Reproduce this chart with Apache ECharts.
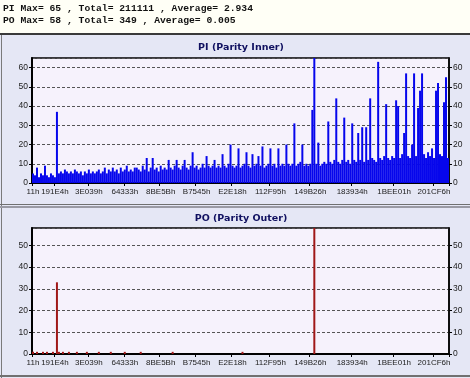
<!DOCTYPE html>
<html>
<head>
<meta charset="utf-8">
<script src="https://cdn.jsdelivr.net/npm/echarts@6/dist/echarts.min.js"></script>
<style>
  html, body { margin: 0; padding: 0; background: #fff; }
  #chart { width: 470px; height: 378px; }
</style>
</head>
<body>
<div id="chart"></div>
<script>
// PI errors per sample (left to right)
const piValues = [
    5, 4, 8, 3, 5, 4, 9, 4, 3, 5,
    4, 3, 37, 5, 6, 5, 7, 6, 5, 6,
    5, 7, 6, 5, 6, 4, 6, 5, 7, 5,
    6, 5, 6, 7, 5, 6, 8, 5, 7, 6,
    8, 6, 7, 5, 8, 6, 7, 9, 6, 7,
    6, 8, 8, 7, 6, 9, 7, 13, 6, 8,
    13, 7, 8, 6, 9, 7, 8, 7, 12, 8,
    7, 9, 12, 8, 7, 9, 12, 8, 7, 9,
    16, 8, 9, 7, 8, 10, 8, 14, 9, 8,
    9, 12, 8, 9, 8, 15, 9, 8, 10, 20,
    9, 8, 9, 18, 8, 9, 10, 16, 9, 8,
    15, 9, 10, 14, 9, 19, 8, 9, 10, 18,
    9, 10, 8, 18, 9, 10, 9, 20, 10, 9,
    10, 31, 9, 10, 11, 20, 9, 10, 9, 10,
    38, 65, 10, 21, 9, 10, 11, 10, 32, 11,
    10, 12, 44, 11, 10, 12, 34, 11, 12, 10,
    31, 12, 11, 26, 12, 29, 11, 29, 12, 44,
    13, 12, 11, 63, 13, 12, 14, 41, 13, 12,
    14, 13, 43, 40, 13, 15, 26, 57, 14, 13,
    20, 57, 14, 39, 48, 57, 15, 13, 16, 14,
    18, 13, 48, 52, 15, 14, 42, 55, 13
];

// PO errors per sample
const poValues = [
    1, 0, 1, 0, 0, 1, 0, 1, 0, 0,
    1, 0, 33, 1, 0, 1, 0, 0, 1, 0,
    0, 0, 1, 0, 0, 0, 0, 1, 0, 0,
    0, 0, 0, 1, 0, 0, 0, 0, 0, 1,
    0, 0, 0, 0, 0, 0, 1, 0, 0, 0,
    0, 0, 0, 0, 1, 0, 0, 0, 0, 0,
    0, 0, 0, 0, 0, 0, 0, 0, 0, 0,
    1, 0, 0, 0, 0, 0, 0, 0, 0, 0,
    0, 0, 0, 0, 0, 0, 0, 0, 0, 0,
    0, 0, 0, 0, 0, 0, 0, 0, 0, 0,
    0, 0, 0, 0, 0, 1, 0, 0, 0, 0,
    0, 0, 0, 0, 0, 0, 0, 0, 0, 0,
    0, 0, 0, 0, 0, 0, 0, 0, 0, 0,
    0, 0, 0, 0, 0, 0, 0, 0, 0, 0,
    0, 58, 0, 0, 0, 0, 0, 0, 0, 0,
    0, 0, 0, 0, 0, 0, 0, 0, 0, 0,
    0, 0, 0, 0, 0, 0, 0, 0, 0, 0,
    0, 0, 0, 0, 0, 0, 0, 0, 0, 0,
    0, 0, 0, 0, 0, 0, 0, 0, 0, 0,
    0, 0, 0, 0, 0, 0, 0, 0, 0, 0,
    0, 0, 0, 0, 0, 0, 0, 0, 0
];

// x tick labels (LBA, hex) and the sample they sit on
const xTickLabels = ['11h', '191E4h', '3E039h', '64333h', '8BE5Bh', 'B7545h',
    'E2E18h', '112F95h', '149B26h', '183934h', '1BEE01h', '201CF6h'];
const xTickIndex = [0, 11, 28, 46, 64, 82, 100, 119, 139, 160, 181, 201];

const summaryLines = [
    'PI Max= 65 , Total= 211111 , Average= 2.934',
    'PO Max= 58 , Total= 349 , Average= 0.005'
];

const chart = echarts.init(document.getElementById('chart'), null, { renderer: 'canvas' });

const categories = piValues.map((v, i) => String(i));
const labelAt = {};
xTickIndex.forEach((idx, k) => { labelAt[idx] = xTickLabels[k]; });

const labelFont = { fontFamily: 'Liberation Sans, Arial, sans-serif', color: '#222' };

function makeX(gridIndex) {
    return {
        type: 'category',
        gridIndex: gridIndex,
        data: categories,
        boundaryGap: true,
        axisLine: { lineStyle: { color: '#000', width: 2 } },
        axisTick: {
            show: true,
            length: 3,
            interval: (i) => labelAt[i] !== undefined,
            lineStyle: { color: '#000' }
        },
        axisLabel: {
            ...labelFont,
            fontSize: 8,
            margin: 5,
            interval: (i) => labelAt[i] !== undefined,
            formatter: (v, i) => labelAt[i] || ''
        },
        splitLine: { show: false }
    };
}

function makeY(gridIndex, max, side) {
    return {
        type: 'value',
        gridIndex: gridIndex,
        position: side,
        min: 0,
        max: max,
        interval: 10,
        axisLine: { show: true, lineStyle: { color: '#000', width: side === 'left' ? 2 : 1.5 } },
        axisTick: { show: true, length: 3, lineStyle: { color: '#000' } },
        axisLabel: { ...labelFont, fontSize: 8.5, margin: 4, showMaxLabel: false },
        splitLine: side === 'left'
            ? { show: true, lineStyle: { color: '#555', type: [3, 2], width: 1 } }
            : { show: false }
    };
}

const option = {
    backgroundColor: '#E5E7F5',
    animation: false,
    grid: [
        { left: 32, top: 58, width: 417, height: 125, show: true,
          backgroundColor: '#F6F2FC', borderColor: '#000', borderWidth: 1.5 },
        { left: 32, top: 228, width: 417, height: 126, show: true,
          backgroundColor: '#F6F2FC', borderColor: '#000', borderWidth: 1.5 }
    ],
    xAxis: [makeX(0), makeX(1)],
    yAxis: [
        makeY(0, 65, 'left'), makeY(0, 65, 'right'),
        makeY(1, 58, 'left'), makeY(1, 58, 'right')
    ],
    series: [
        {
            name: 'PI', type: 'bar', xAxisIndex: 0, yAxisIndex: 0,
            data: piValues, barCategoryGap: '0%',
            itemStyle: { color: '#0606EC' }
        },
        {
            name: 'PO', type: 'bar', xAxisIndex: 1, yAxisIndex: 2,
            data: poValues, barCategoryGap: '0%',
            itemStyle: { color: '#A01818' }
        }
    ],
    graphic: [
        { type: 'rect', z: -1, shape: { x: 0, y: 0, width: 470, height: 33 }, style: { fill: '#FFFFF6' } },
        { type: 'rect', shape: { x: 0, y: 33, width: 470, height: 2 }, style: { fill: '#3A3A3A' } },
        { type: 'rect', shape: { x: 1, y: 35, width: 1, height: 343 }, style: { fill: '#7A7A7A' } },
        { type: 'rect', shape: { x: 0, y: 204, width: 470, height: 1 }, style: { fill: '#707070' } },
        { type: 'rect', shape: { x: 0, y: 206, width: 470, height: 2 }, style: { fill: '#9A9AA4' } },
        { type: 'rect', shape: { x: 0, y: 375, width: 470, height: 2 }, style: { fill: '#707070' } },
        {
            type: 'text', left: 3, top: 3,
            style: { text: summaryLines.join('\n'), font: 'bold 9.7px "Liberation Mono", monospace',
                     fill: '#111', lineHeight: 12 }
        },
        {
            type: 'text', x: 241, y: 48,
            style: { text: 'PI (Parity Inner)', font: 'bold 9.5px "DejaVu Sans", Verdana, sans-serif',
                     fill: '#101060', textAlign: 'center', textVerticalAlign: 'middle' }
        },
        {
            type: 'text', x: 241, y: 219,
            style: { text: 'PO (Parity Outer)', font: 'bold 9.5px "DejaVu Sans", Verdana, sans-serif',
                     fill: '#101060', textAlign: 'center', textVerticalAlign: 'middle' }
        }
    ]
};

chart.setOption(option);
</script>
</body>
</html>
